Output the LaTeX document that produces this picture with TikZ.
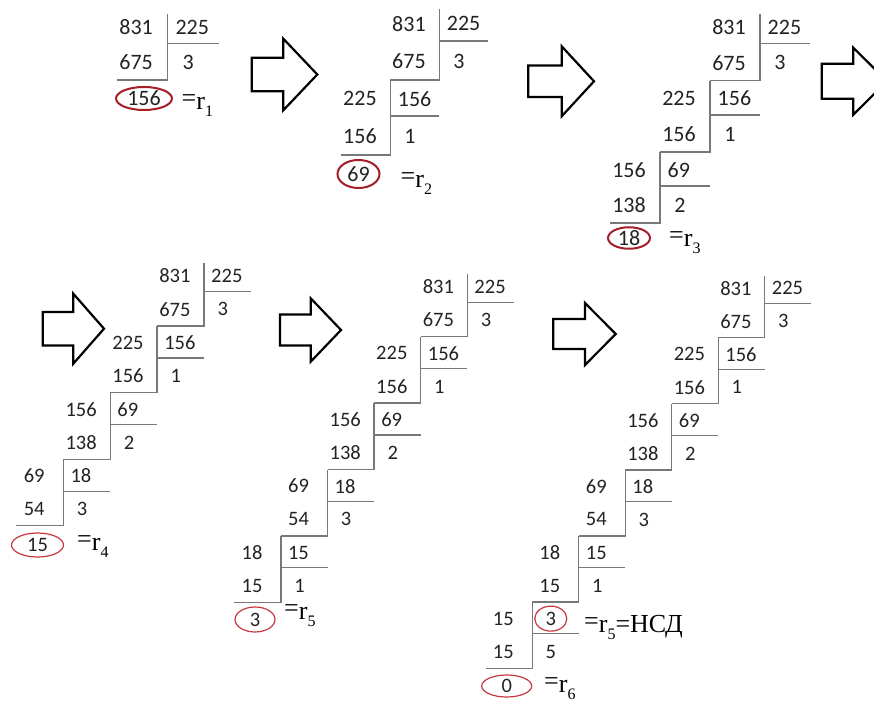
\documentclass[tikz,border=0pt]{standalone}
\usepackage{fontspec}
\setmainfont{Carlito}
\newfontfamily\serifont{Liberation Serif}
\usetikzlibrary{shapes.geometric}
\definecolor{numc}{RGB}{35,35,35}
\definecolor{rulec}{RGB}{120,120,120}
\definecolor{ringA}{RGB}{165,30,40}
\definecolor{ringB}{RGB}{200,55,65}
\newcommand\rsub[1]{\raisebox{-7pt}{\fontsize{16}{16}\selectfont #1}}
\newcommand\req{\raisebox{3pt}{=}}
\tikzset{
  rule/.style={draw=rulec, line width=1.3pt},
  num/.style={inner sep=0pt, text=numc},
  ringa/.style={draw=ringA, line width=2pt, ellipse, inner sep=0pt, text=numc},
  ringb/.style={draw=ringB, line width=1.2pt, ellipse, inner sep=0pt, text=numc},
  rlabel/.style={inner sep=0pt, anchor=base west, font=\serifont\fontsize{26}{26}\selectfont},
  arrowline/.style={draw=black, line width=2.2pt, fill=white, line join=miter}
}
% #1 name, #2 X0, #3 Y0, #4 dx, #5 dy, #6 levels, #7 font size
\newcommand\ladder[7]{%
  \begin{scope}[font=\fontsize{#7}{#7}\selectfont]
  \foreach \a/\b/\p/\q [count=\j from 0] in {831/225/675/3,225/156/156/1,156/69/138/2,69/18/54/3,18/15/15/1,15/3/15/5}{
    \ifnum\j<#6
      \pgfmathsetmacro\xv{#2-\j*#4}
      \pgfmathsetmacro\yt{#3+\j*#5}
      \pgfmathsetmacro\ys{ifthenelse(\j==0,#3+0.06*#5,\yt)}
      \draw[rule] (\xv,\ys) -- (\xv,\yt+#5) -- (\xv-#4,\yt+#5);
      \draw[rule] (\xv,\yt+0.48*#5) -- (\xv+#4,\yt+0.48*#5);
      \node[num] (#1-a\j) at (\xv-0.62*#4,\yt+0.25*#5) {\a};
      \node[num] (#1-p\j) at (\xv-0.62*#4,\yt+0.75*#5) {\p};
      \ifnum\b>9
        \node[num,anchor=west] (#1-b\j) at (\xv+0.15*#4,\yt+0.25*#5) {\b};
      \else
        \node[num] (#1-b\j) at (\xv+0.4*#4,\yt+0.25*#5) {\b};
      \fi
      \node[num] (#1-q\j) at (\xv+0.4*#4,\yt+0.75*#5) {\q};
    \fi
  }
  \end{scope}}
% #1 left x, #2 mid y, #3 shaft length, #4 shaft half height, #5 tip x, #6 head half height
\newcommand\blockarrow[6]{%
  \draw[arrowline] (#1,#2-#4) -- (#1+#3,#2-#4) -- (#1+#3,#2-#6) -- (#5,#2)
     -- (#1+#3,#2+#6) -- (#1+#3,#2+#4) -- (#1,#2+#4) -- cycle;}
\begin{document}
\begin{tikzpicture}[x=1pt,y=-1pt]
\clip (0,0) rectangle (874,703);
\fill[white] (0,0) rectangle (874,703);

% ladders
\ladder{L1}{167.7}{10}{51}{70}{1}{22}
\ladder{L2}{439.3}{5}{49}{75}{2}{22}
\ladder{L3}{760}{9.5}{50}{71.2}{3}{22}
\ladder{L4}{204}{259.4}{46.9}{66.6}{4}{20.5}
\ladder{L5}{467.3}{270.3}{46.6}{66.4}{5}{20.5}
\ladder{L6}{764.7}{271.6}{46.5}{66.1}{6}{20.5}

% remainders
\node[ringa, minimum width=56pt, minimum height=23pt, font=\fontsize{22}{22}\selectfont] (L1-r) at (144,98.5) {156};
\node[ringa, minimum width=42pt, minimum height=28pt, font=\fontsize{22}{22}\selectfont] (L2-r) at (358.5,174) {69};
\node[ringa, minimum width=42pt, minimum height=21pt, font=\fontsize{22}{22}\selectfont] (L3-r) at (629,238) {18};
\node[ringb, minimum width=52pt, minimum height=24pt, font=\fontsize{20.5}{20.5}\selectfont] (L4-r) at (37.5,545) {15};
\node[ringb, minimum width=40pt, minimum height=25pt, font=\fontsize{20.5}{20.5}\selectfont] (L5-r) at (255,619.5) {3};
\node[ringb, minimum width=50pt, minimum height=22pt, font=\fontsize{20.5}{20.5}\selectfont] (L6-r) at (506.7,686) {0};
\node[ringb, minimum width=32pt, minimum height=25pt] (L6-g) at (L6-b5) {};

% labels
\node[rlabel] (L1-l) at (181.5,110) {\req r\rsub{1}};
\node[rlabel] (L2-l) at (400.5,188) {\req r\rsub{2}};
\node[rlabel] (L3-l) at (669,246) {\req r\rsub{3}};
\node[rlabel] (L4-l) at (77,550) {\req r\rsub{4}};
\node[rlabel] (L5-l) at (284,619) {\req r\rsub{5}};
\node[rlabel] (L6-l) at (584,632) {\req r\rsub{5}=НСД};
\node[rlabel] (L6-m) at (544,692) {\req r\rsub{6}};

% arrows
\blockarrow{251.7}{74.5}{31.6}{16.7}{317.3}{35.8}
\blockarrow{528.3}{81.3}{33.4}{15.8}{594}{35}
\blockarrow{821.7}{81.2}{31.6}{17.5}{887}{33.5}
\blockarrow{42.7}{328.7}{30.6}{16.7}{104}{35}
\blockarrow{280}{330}{30.7}{15.5}{341}{31.7}
\blockarrow{553.3}{334}{31.7}{15}{615.7}{31}
\end{tikzpicture}
\end{document}
